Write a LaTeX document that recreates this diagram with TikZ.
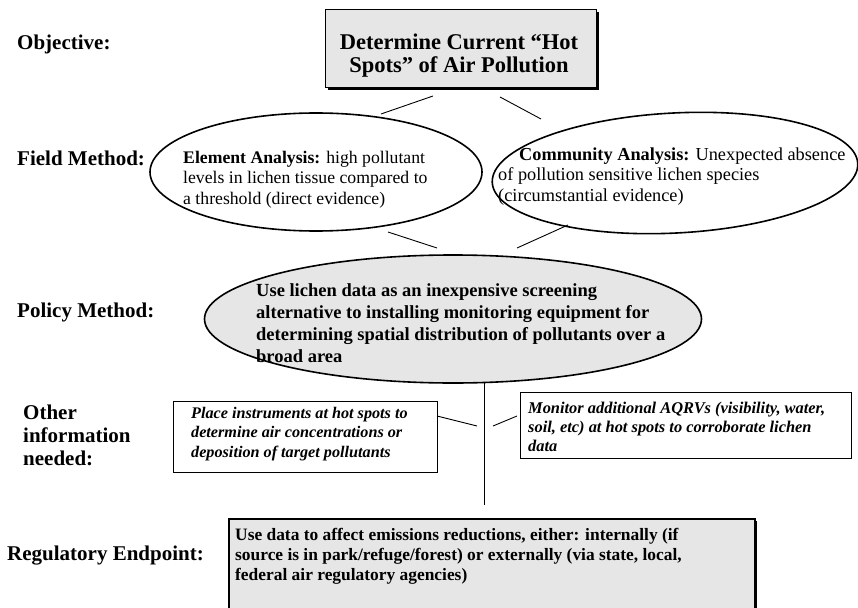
\documentclass[tikz,border=0pt]{standalone}
\usepackage{fontspec}
\setmainfont{Liberation Serif}
\usetikzlibrary{shapes.geometric,shadows}
\definecolor{boxgray}{HTML}{E6E6E6}
\tikzset{
  lbl/.style={anchor=base west, inner sep=0, font=\fontsize{21}{23}\selectfont\bfseries},
  txt/.style={anchor=north west, inner sep=0, align=left},
  conn/.style={line width=0.9pt},
  oval/.style={ellipse, draw, line width=1.6pt, inner sep=0},
  infobox/.style={draw, line width=0.9pt, fill=white, anchor=north west, inner sep=0},
  shadowbox/.style={draw, line width=1.2pt, fill=boxgray, anchor=north west, inner sep=0,
    drop shadow={shadow xshift=2.5pt, shadow yshift=-2.5pt, fill=black, opacity=1}},
}
\begin{document}
\begin{tikzpicture}[x=1pt,y=-1pt]
\useasboundingbox (0,0) rectangle (858,607);
\clip (0,0) rectangle (858,607);

% left labels
\node[lbl] (l1) at (17,50) {Objective:};
\node[lbl] (l2) at (17,165) {Field Method:};
\node[lbl] (l3) at (17,317) {Policy Method:};
\node[txt, font=\fontsize{21}{23}\selectfont\bfseries] (l4) at (23,419-16.1) {\strut Other\\information\\needed:};
\node[lbl] (l5) at (7,560) {Regulatory Endpoint:};

% objective box
\node[shadowbox, minimum width=271pt, minimum height=78pt] (obj) at (325,9) {};
\node[anchor=north, inner sep=0, align=center, font=\fontsize{22.5}{23.5}\selectfont\bfseries] (objt) at (459,49-16.45) {\strut Determine Current “Hot\\Spots” of Air Pollution};

% field method ellipses
\node[oval, minimum width=332pt, minimum height=118pt] (fe) at (316,172) {};
\node[oval, minimum width=366pt, minimum height=120pt, rotate=3] (fc) at (675,173) {};
\node[txt, font=\fontsize{17.7}{20.5}\selectfont] (fet) at (183,163-14.35) {\strut\textbf{Element Analysis:} high pollutant\\levels in lichen tissue compared to\\a threshold (direct evidence)};
\node[txt, font=\fontsize{18.3}{20.5}\selectfont] (fct) at (498,160-14.35) {\strut\hspace*{21pt}\textbf{Community Analysis:} Unexpected absence\\of pollution sensitive lichen species\\(circumstantial evidence)};

% policy ellipse
\node[oval, fill=boxgray, minimum width=497pt, minimum height=128pt] (pm) at (453,319) {};
\node[txt, font=\fontsize{18.5}{22}\selectfont\bfseries] (pmt) at (256,296-15.4) {\strut Use lichen data as an inexpensive screening\\alternative to installing monitoring equipment for\\determining spatial distribution of pollutants over a\\broad area};

% other info boxes
\node[infobox, minimum width=264pt, minimum height=71pt] (lb) at (173,401) {};
\node[txt, font=\fontsize{16.2}{19.5}\selectfont\bfseries\itshape] (lbt) at (191,418-13.65) {\strut Place instruments at hot spots to\\determine air concentrations or\\deposition of target pollutants};
\node[infobox, minimum width=331pt, minimum height=66pt] (rb) at (520,392) {};
\node[txt, font=\fontsize{16.4}{19}\selectfont\bfseries\itshape] (rbt) at (528,413-13.3) {\strut Monitor additional AQRVs (visibility, water,\\soil, etc) at hot spots to corroborate lichen\\data};

% regulatory box
\node[shadowbox, line width=1.6pt, minimum width=526pt, minimum height=110pt] (reg) at (228,518) {};
\node[txt, font=\fontsize{17.4}{20}\selectfont\bfseries] (regt) at (235,540-14) {\strut Use data to affect emissions reductions, either: internally (if\\source is in park/refuge/forest) or externally (via state, local,\\federal air regulatory agencies)};

% connectors
\coordinate (c1a) at (381,114); \coordinate (c1b) at (433,96);
\coordinate (c2a) at (500,97);  \coordinate (c2b) at (541,119);
\coordinate (c3a) at (388,232); \coordinate (c3b) at (437,248);
\coordinate (c4a) at (568,225); \coordinate (c4b) at (517,248);
\coordinate (c5a) at (484,383); \coordinate (c5b) at (484,505);
\coordinate (c6a) at (437,416); \coordinate (c6b) at (477,426);
\coordinate (c7a) at (493,426); \coordinate (c7b) at (517,416);
\draw[conn] (c1a) -- (c1b);
\draw[conn] (c2a) -- (c2b);
\draw[conn] (c3a) -- (c3b);
\draw[conn] (c4a) -- (c4b);
\draw[conn] (c5a) -- (c5b);
\draw[conn] (c6a) -- (c6b);
\draw[conn] (c7a) -- (c7b);
\end{tikzpicture}
\end{document}
